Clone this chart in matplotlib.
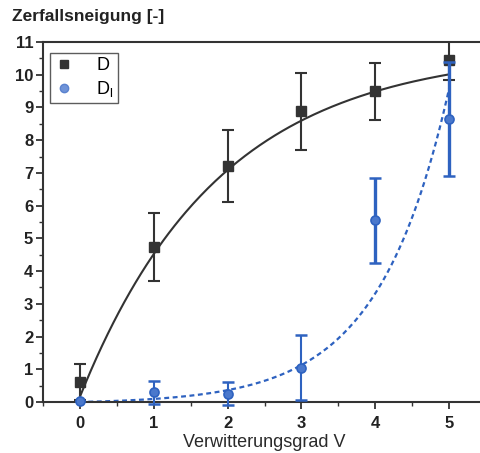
import numpy as np
import matplotlib
matplotlib.use("Agg")
import matplotlib.pyplot as plt
from matplotlib.lines import Line2D

plt.rcParams['font.family'] = ['Liberation Sans', 'DejaVu Sans']

# Weathering grade V
grade = [0, 1, 2, 3, 4, 5]

# Decay tendency D (mean and standard deviation)
d_mean = [0.60, 4.75, 7.22, 8.88, 9.49, 10.44]
d_err = [0.55, 1.04, 1.10, 1.17, 0.86, 0.60]

# Decay tendency D_l (mean and standard deviation)
dl_mean = [0.03, 0.30, 0.25, 1.05, 5.55, 8.65]
dl_err = [0.00, 0.35, 0.35, 1.00, 1.30, 1.75]

# Fitted model curves
# D:   c + a * (1 - exp(-b V))
fit_d = dict(a=10.6, b=0.53, c=0.16)
# D_l: a * (exp(b V) - 1)
fit_dl = dict(a=0.0505, b=1.05)

x_ticks = [0, 1, 2, 3, 4, 5]
y_ticks = list(range(0, 12))
series_labels = ['D', r'D$_\mathregular{l}$']

dark = '#333333'
blue = '#2e62c0'
blue_fill = '#4a78cc'

fig = plt.figure(figsize=(4.8, 4.53), dpi=100)
ax = fig.add_axes([43 / 480, 51 / 453, 443 / 480, 360 / 453])

v = np.linspace(0, 5, 200)
ax.plot(v, fit_d['c'] + fit_d['a'] * (1 - np.exp(-fit_d['b'] * v)),
        color=dark, lw=1.5, zorder=2)
ax.plot(v, fit_dl['a'] * (np.exp(fit_dl['b'] * v) - 1),
        color=blue, lw=1.6, ls=(0, (2.2, 1.6)), zorder=2)

ax.errorbar(grade, d_mean, yerr=d_err, fmt='s', color=dark, ms=7,
            mfc=dark, mec=dark, elinewidth=1.5, capsize=4, capthick=1.5,
            zorder=3)

# D_l error bars: only where a deviation exists
dl_x = [g for g, e in zip(grade, dl_err) if e > 0]
dl_y = [m for m, e in zip(dl_mean, dl_err) if e > 0]
dl_e = [e for e in dl_err if e > 0]
bar_w = [1.5 if e < 1.2 else 2.4 for e in dl_e]
eb = ax.errorbar(dl_x, dl_y, yerr=dl_e, fmt='none', ecolor=blue,
                 elinewidth=1.5, capsize=4, capthick=1.5, zorder=4,
                 clip_on=False)
eb.lines[2][0].set_linewidths(bar_w)
for cap in eb.lines[1]:
    cap.set_markeredgewidth(1.8)
ax.plot(grade, dl_mean, 'o', ms=6.5, mfc=blue_fill, mec=blue, mew=1.2,
        zorder=5, clip_on=False)

ax.set_xlim(-0.47, 5.5)
ax.set_ylim(0, 11)
ax.set_xticks(x_ticks)
ax.set_yticks(y_ticks)
ax.set_xticks(np.arange(-0.5, 5.51, 0.5), minor=True)
ax.set_yticks(np.arange(0, 11.01, 0.5), minor=True)

for s in ax.spines.values():
    s.set_linewidth(1.5)
    s.set_color(dark)
ax.tick_params(axis='both', which='major', direction='out', length=5,
               width=1.3, color=dark, labelsize=12, labelcolor='#222222')
ax.tick_params(axis='both', which='minor', direction='out', length=3,
               width=1.0, color=dark)
ax.tick_params(axis='x', pad=5)
ax.tick_params(axis='y', pad=2)
for lab in ax.get_xticklabels() + ax.get_yticklabels():
    lab.set_fontweight('bold')

ax.set_xlabel('Verwitterungsgrad V', fontsize=13, color='#2a2a2a',
              labelpad=2)
fig.text(12 / 480, 1 - 16 / 453, 'Zerfallsneigung [-]', fontsize=12.5,
         fontweight='bold', color='#222222', va='center', ha='left')

handles = [
    Line2D([], [], ls='none', marker='s', ms=6, mfc=dark, mec=dark),
    Line2D([], [], ls='none', marker='o', ms=6, mfc='#6f93d8', mec='#5a82cf'),
]
leg = ax.legend(handles, series_labels, loc='upper left',
                bbox_to_anchor=(0.016, 0.97), borderaxespad=0, frameon=True,
                fancybox=False, handlelength=1.0, handletextpad=1.3,
                fontsize=13, borderpad=0.25, labelspacing=0.25)
leg.get_frame().set_edgecolor(dark)
leg.get_frame().set_linewidth(1.0)

fig.savefig('out.png', dpi=100)
